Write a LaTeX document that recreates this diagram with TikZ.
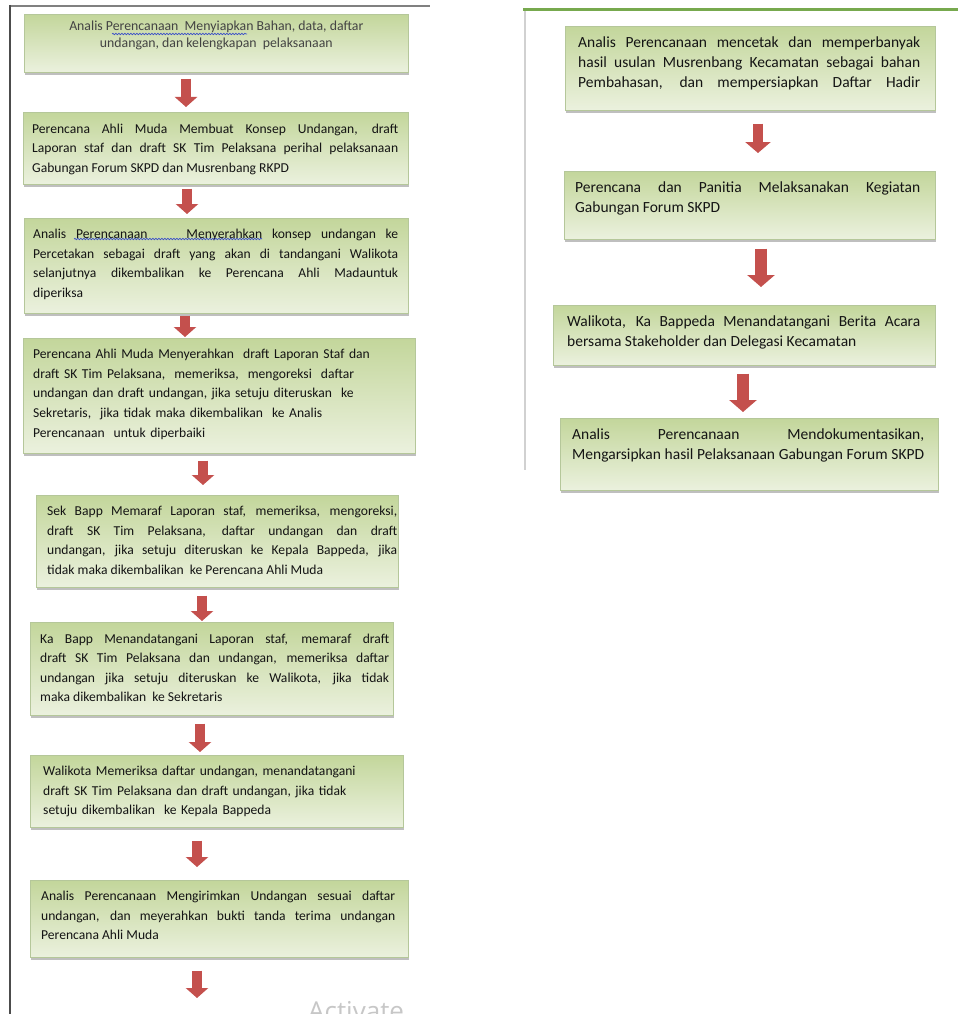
\documentclass[tikz,border=0pt]{standalone}
\usepackage{fontspec}
\setmainfont{Carlito}
\newfontfamily\wmfont{Open Sans}
\usetikzlibrary{shadows,arrows.meta,decorations.pathmorphing}
\definecolor{boxtop}{HTML}{C3D69B}
\definecolor{boxbot}{HTML}{EBF1DE}
\definecolor{boxline}{HTML}{B5C79A}
\definecolor{arrred}{HTML}{C4504D}
\definecolor{txtcol}{HTML}{141414}
\definecolor{spell}{HTML}{3A4FC8}
\definecolor{framegreen}{HTML}{77A94E}
\newcommand\fullline{\parfillskip=0pt\par}
\tikzset{
 flowbox/.style={draw=boxline, line width=0.6pt, top color=boxtop, bottom color=boxbot, inner sep=0pt, anchor=north west,
   drop shadow={shadow xshift=1pt, shadow yshift=-3pt, opacity=0.45, fill=black!55}},
 boxtext/.style={anchor=north west, inner sep=0pt, text=txtcol, font=\fontsize{13.6}{19.6}\selectfont},
 jtext/.style={boxtext, align=justify},
 ltext/.style={boxtext, align=left},
 rtext/.style={boxtext, align=justify, font=\fontsize{15.5}{20}\selectfont},
 flowarrow/.style={draw=arrred, line width=10pt, -{Triangle[width=22pt,length=10pt]}},
 bigarrow/.style={draw=arrred, line width=12pt, -{Triangle[width=27pt,length=12pt]}},
 spellmark/.style={spell, line width=0.7pt, decorate, decoration={snake, amplitude=0.7pt, segment length=3pt}},
}
\begin{document}
\begin{tikzpicture}[x=1pt,y=-1pt]
\useasboundingbox (0,0) rectangle (958,1014);
\clip (0,0) rectangle (958,1014);
\fill[white] (0,0) rectangle (958,1014);
% page frames
\draw[black!50, line width=2.5pt] (10,6) -- (430,6);
\draw[black!70, line width=2.3pt] (10,5) -- (10,1014);
\draw[black!18, line width=1.5pt] (525,11) -- (525,470);
\draw[framegreen, line width=3pt] (523,10) -- (958,10);

% left column boxes
\node[flowbox, minimum width=384pt, minimum height=58pt] (b1) at (24,14) {};
\node[flowbox, minimum width=385pt, minimum height=72pt] (b2) at (23,112) {};
\node[flowbox, minimum width=384pt, minimum height=95pt] (b3) at (24,218) {};
\node[flowbox, minimum width=392pt, minimum height=115pt] (b4) at (23,338) {};
\node[flowbox, minimum width=362pt, minimum height=92pt] (b5) at (36,495) {};
\node[flowbox, minimum width=363pt, minimum height=93pt] (b6) at (30,622) {};
\node[flowbox, minimum width=373pt, minimum height=72pt] (b7) at (30,755) {};
\node[flowbox, minimum width=378pt, minimum height=77pt] (b8) at (30,880) {};
% right column boxes
\node[flowbox, minimum width=370pt, minimum height=84pt] (r1) at (565,26) {};
\node[flowbox, minimum width=371pt, minimum height=68pt] (r2) at (564,171) {};
\node[flowbox, minimum width=382pt, minimum height=60pt] (r3) at (553,305) {};
\node[flowbox, minimum width=378pt, minimum height=72pt] (r4) at (560,418) {};

% texts
\node[boxtext, align=center, anchor=north, text=txtcol!80, font=\fontsize{13.8}{17}\selectfont] (t1) at ([yshift=-7pt]b1.north)
 {Analis Perencanaan\ \ Menyiapkan Bahan, data, daftar\\ undangan, dan kelengkapan\ \ pelaksanaan};
\node[jtext, text width=366pt] (t2) at ([xshift=9pt,yshift=-11.5pt]b2.north west)
 {Perencana Ahli Muda Membuat Konsep Undangan, draft\linebreak Laporan staf dan draft SK Tim Pelaksana perihal pelaksanaan\linebreak Gabungan Forum SKPD dan Musrenbang RKPD};
\node[jtext, text width=365pt] (t3) at ([xshift=9pt,yshift=-11pt]b3.north west)
 {Analis Perencanaan\ \ \ \ Menyerahkan konsep undangan ke\linebreak Percetakan sebagai draft yang akan di tandangani Walikota\linebreak selanjutnya dikembalikan ke Perencana Ahli Madauntuk\linebreak diperiksa};
\node[ltext, text width=375pt] (t4) at ([xshift=10pt,yshift=-11pt]b4.north west)
 {Perencana Ahli Muda Menyerahkan\ \ draft Laporan Staf dan\\ draft SK Tim Pelaksana,\ \ memeriksa,\ \ mengoreksi\ \ daftar\\ undangan dan draft undangan, jika setuju diteruskan\ \ ke\\ Sekretaris,\ \ jika tidak maka dikembalikan\ \ ke Analis\\ Perencanaan\ \ untuk diperbaiki};
\node[jtext, text width=350pt] (t5) at ([xshift=11pt,yshift=-11pt]b5.north west)
 {Sek Bapp Memaraf Laporan staf, memeriksa, mengoreksi,\linebreak draft SK Tim Pelaksana, daftar undangan dan draft\linebreak undangan, jika setuju diteruskan ke Kepala Bappeda, jika\linebreak tidak maka dikembalikan\ \ ke Perencana Ahli Muda};
\node[jtext, text width=349pt] (t6) at ([xshift=10pt,yshift=-11.5pt]b6.north west)
 {Ka Bapp Menandatangani Laporan staf, memaraf draft\linebreak draft SK Tim Pelaksana dan undangan, memeriksa daftar\linebreak undangan jika setuju diteruskan ke Walikota, jika tidak\linebreak maka dikembalikan\ \ ke Sekretaris};
\node[ltext, text width=355pt] (t7) at ([xshift=13pt,yshift=-11pt]b7.north west)
 {Walikota Memeriksa daftar undangan, menandatangani\\ draft SK Tim Pelaksana dan draft undangan, jika tidak\\ setuju dikembalikan\ \ ke Kepala Bappeda};
\node[jtext, text width=354pt] (t8) at ([xshift=11pt,yshift=-11pt]b8.north west)
 {Analis Perencanaan Mengirimkan Undangan sesuai daftar\linebreak undangan, dan meyerahkan bukti tanda terima undangan\linebreak Perencana Ahli Muda};
\node[rtext, text width=342pt] (s1) at ([xshift=13pt,yshift=-11pt]r1.north west)
 {Analis Perencanaan mencetak dan memperbanyak\linebreak hasil usulan Musrenbang Kecamatan sebagai bahan\linebreak Pembahasan, dan mempersiapkan Daftar Hadir\fullline};
\node[rtext, text width=345pt] (s2) at ([xshift=11pt,yshift=-11pt]r2.north west)
 {Perencana dan Panitia Melaksanakan Kegiatan\linebreak Gabungan Forum SKPD};
\node[rtext, text width=353pt] (s3) at ([xshift=14pt,yshift=-11pt]r3.north west)
 {Walikota, Ka Bappeda Menandatangani Berita Acara\linebreak bersama Stakeholder dan Delegasi Kecamatan};
\node[rtext, text width=352pt] (s4) at ([xshift=12pt,yshift=-11pt]r4.north west)
 {Analis Perencanaan Mendokumentasikan,\linebreak Mengarsipkan hasil Pelaksanaan Gabungan Forum SKPD\fullline};

% spell-check marks
\draw[spellmark] (112,34) -- (247,34);
\draw[spellmark] (74,239) -- (262,239);

% arrow x positions
\coordinate (ax1) at (186,0);
\coordinate (ax2) at (187,0);
\coordinate (ax3) at (185,0);
\coordinate (ax4) at (203,0);
\coordinate (ax5) at (202,0);
\coordinate (ax6) at (200,0);
\coordinate (ax7) at (197,0);
\coordinate (ax8) at (197,0);
\coordinate (end8) at (197,998);
\coordinate (rx1) at (758,0);
\coordinate (rx2) at (761,0);
\coordinate (rx3) at (743,0);

% connectors
\draw[flowarrow, shorten <=6pt, shorten >=5pt] (b1.south -| ax1) -- (b2.north -| ax1);
\draw[flowarrow, shorten <=4pt, shorten >=4pt] (b2.south -| ax2) -- (b3.north -| ax2);
\draw[flowarrow, shorten <=2pt, shorten >=1pt] (b3.south -| ax3) -- (b4.north -| ax3);
\draw[flowarrow, shorten <=7pt, shorten >=10pt] (b4.south -| ax4) -- (b5.north -| ax4);
\draw[flowarrow, shorten <=8pt, shorten >=1pt] (b5.south -| ax5) -- (b6.north -| ax5);
\draw[flowarrow, shorten <=8pt, shorten >=3pt] (b6.south -| ax6) -- (b7.north -| ax6);
\draw[flowarrow, shorten <=13pt, shorten >=13pt] (b7.south -| ax7) -- (b8.north -| ax7);
\draw[flowarrow, shorten <=13pt] (b8.south -| ax8) -- (end8);
\draw[flowarrow, line width=10pt, -{Triangle[width=25pt,length=11pt]}, shorten <=13pt, shorten >=18pt] (r1.south -| rx1) -- (r2.north -| rx1);
\draw[bigarrow, shorten <=9pt, shorten >=18pt] (r2.south -| rx2) -- (r3.north -| rx2);
\draw[bigarrow, shorten <=8pt, shorten >=6pt] (r3.south -| rx3) -- (r4.north -| rx3);

% watermark
\node[anchor=base west, inner sep=0pt, font=\wmfont\fontsize{26}{26}\selectfont, text=black!22] (wm) at (308,1020) {Activate};
\end{tikzpicture}
\end{document}
